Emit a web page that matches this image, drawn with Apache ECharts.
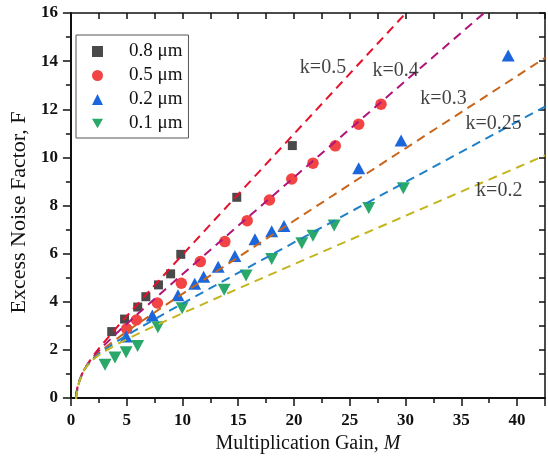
<!DOCTYPE html>
<html>
<head>
<meta charset="utf-8">
<script src="https://cdn.jsdelivr.net/npm/echarts@6/dist/echarts.min.js"></script>
<style>html,body{margin:0;padding:0;background:#fff}#c{width:548px;height:460px}</style>
</head>
<body>
<div id="c"></div>
<script>
// Measured data (multiplication gain M, excess noise factor F)
const sq08 = [[3.66,2.76],[4.81,3.28],[5.99,3.78],[6.72,4.21],[7.85,4.70],[8.94,5.16],[9.85,5.97],[14.87,8.34],[19.85,10.49]];
const ci05 = [[5.0,2.88],[5.87,3.24],[7.75,3.95],[9.9,4.77],[11.6,5.67],[13.8,6.5],[15.8,7.37],[17.8,8.23],[19.8,9.1],[21.7,9.76],[23.7,10.48],[25.8,11.38],[27.8,12.21]];
const tr02 = [[4.95,2.56],[7.3,3.43],[9.6,4.27],[11.1,4.75],[11.9,5.04],[13.2,5.45],[14.7,5.9],[16.5,6.6],[18.0,6.93],[19.1,7.15],[25.8,9.55],[29.6,10.7],[39.2,14.23]];
const dt01 = [[3.06,1.38],[3.95,1.68],[4.95,1.9],[5.98,2.16],[7.8,2.94],[9.97,3.73],[13.74,4.5],[15.7,5.09],[18.0,5.78],[20.7,6.43],[21.7,6.74],[23.6,7.17],[26.7,7.9],[29.8,8.72]];

// Theory curves
const gainGrid = [0.45,0.5,0.6,0.75,1,1.25,1.5,2,2.5,3,4,5,6,8,10,12,15,20,25,30,35,40,42.5];
const F_k050 = [0.114,0.25,0.467,0.708,1.0,1.225,1.417,1.75,2.05,2.333,2.875,3.4,3.917,4.938,5.95,6.958,8.467,10.975,13.48,15.983,18.486,20.988,22.238];
const F_k040 = [0.047,0.2,0.44,0.7,1.0,1.22,1.4,1.7,1.96,2.2,2.65,3.08,3.5,4.325,5.14,5.95,7.16,9.17,11.176,13.18,15.183,17.185,18.186];
const F_k030 = [-0.02,0.15,0.413,0.692,1.0,1.215,1.383,1.65,1.87,2.067,2.425,2.76,3.083,3.713,4.33,4.942,5.853,7.365,8.872,10.377,11.88,13.383,14.134];
const F_k025 = [-0.054,0.125,0.4,0.688,1.0,1.213,1.375,1.625,1.825,2.0,2.313,2.6,2.875,3.406,3.925,4.438,5.2,6.463,7.72,8.975,10.229,11.481,12.107];
const F_k020 = [-0.088,0.1,0.387,0.683,1.0,1.21,1.367,1.6,1.78,1.933,2.2,2.44,2.667,3.1,3.52,3.933,4.547,5.56,6.568,7.573,8.577,9.58,10.081];

const seriesNames = ['0.8 \u03bcm','0.5 \u03bcm','0.2 \u03bcm','0.1 \u03bcm'];
const curveNames = ['k=0.5','k=0.4','k=0.3','k=0.25','k=0.2'];
const curveLabelAt = [[22.6,13.72],[29.1,13.62],[33.4,12.43],[37.9,11.39],[38.4,8.61]];

const FONT = 'Liberation Serif, Times New Roman, serif';
const pair = (xs, ys) => xs.map((x, i) => [x, ys[i]]);

const curveColors = ['#e5112b','#b0147a','#c8661c','#1f80c8','#c4b41e'];
const curveData = [F_k050, F_k040, F_k030, F_k025, F_k020];

const chart = echarts.init(document.getElementById('c'), null, {renderer: 'canvas'});

const lineSeries = curveData.map((ys, i) => ({
  name: curveNames[i], type: 'line', data: pair(gainGrid, ys), showSymbol: false, symbol: 'none',
  clip: true, z: 3, silent: true,
  lineStyle: {color: curveColors[i], width: 2, type: [9, 6]}
}));

const option = {
  animation: false,
  backgroundColor: '#fff',
  grid: {left: 65, right: 3, top: 13, bottom: 62, containLabel: false},
  legend: {
    data: seriesNames, orient: 'vertical', left: 76, top: 35,
    itemWidth: 11, itemHeight: 11, itemGap: 5,
    padding: [7, 6, 5, 16],
    borderColor: '#555', borderWidth: 1,
    textStyle: {fontFamily: FONT, fontSize: 19, color: '#111', padding: [0, 0, 0, 21]}
  },
  xAxis: [{
    type: 'value', min: 0, max: 42.5, interval: 5, position: 'bottom',
    name: 'Multiplication Gain, {i|M}', nameLocation: 'middle', nameGap: 36,
    nameTextStyle: {fontFamily: FONT, fontSize: 20, color: '#111',
      rich: {i: {fontFamily: FONT, fontSize: 20, fontStyle: 'italic', color: '#111'}}},
    axisLine: {show: true, onZero: false, lineStyle: {color: '#111', width: 2}},
    axisTick: {show: true, inside: false, length: 8, lineStyle: {color: '#111', width: 1.5}},
    minorTick: {show: true, splitNumber: 2, length: 5, lineStyle: {color: '#111', width: 1.5}},
    axisLabel: {fontFamily: FONT, fontSize: 17, fontWeight: 'bold', color: '#111', margin: 14, showMaxLabel: false},
    splitLine: {show: false}
  }, {
    type: 'value', min: 0, max: 42.5, interval: 2.5, position: 'top',
    axisLine: {show: true, onZero: false, lineStyle: {color: '#111', width: 1.5}},
    axisTick: {show: true, inside: true, length: 6, lineStyle: {color: '#111', width: 1.5}},
    axisLabel: {show: false}, splitLine: {show: false}
  }],
  yAxis: [{
    type: 'value', min: 0, max: 16, interval: 2, position: 'left',
    name: 'Excess Noise Factor, F', nameLocation: 'middle', nameGap: 37,
    nameTextStyle: {fontFamily: FONT, fontSize: 22, color: '#111', padding: [0, 14, 0, 0]},
    axisLine: {show: true, onZero: false, lineStyle: {color: '#111', width: 2}},
    axisTick: {show: true, inside: false, length: 8, lineStyle: {color: '#111', width: 1.5}},
    minorTick: {show: true, splitNumber: 2, length: 5, lineStyle: {color: '#111', width: 1.5}},
    axisLabel: {fontFamily: FONT, fontSize: 17, fontWeight: 'bold', color: '#111', margin: 13},
    splitLine: {show: false}
  }, {
    type: 'value', min: 0, max: 16, interval: 1, position: 'right',
    axisLine: {show: true, onZero: false, lineStyle: {color: '#111', width: 1.5}},
    axisTick: {show: true, inside: true, length: 6, lineStyle: {color: '#111', width: 1.5}},
    axisLabel: {show: false}, splitLine: {show: false}
  }],
  series: [
    {name: seriesNames[0], type: 'scatter', data: sq08, symbol: 'rect', symbolSize: 9, z: 2,
     itemStyle: {color: '#4a4a4a', opacity: 1}},
    {name: seriesNames[1], type: 'scatter', data: ci05, symbol: 'circle', symbolSize: 11.5, z: 2,
     itemStyle: {color: '#f24444', opacity: 1}},
    {name: seriesNames[2], type: 'scatter', data: tr02, symbol: 'triangle', symbolSize: [13, 12], z: 2,
     itemStyle: {color: '#1c66dc', opacity: 1}},
    {name: seriesNames[3], type: 'scatter', data: dt01, symbol: 'path://M0,0 L10,0 L5,8.66 Z', symbolSize: [13, 12], z: 2,
     itemStyle: {color: '#2aa86a', opacity: 1}},
    ...lineSeries,
    {name: 'curveLabels', type: 'scatter', data: curveLabelAt.map((p, i) => ({value: p, name: curveNames[i]})),
     symbolSize: 1, itemStyle: {color: 'rgba(0,0,0,0)'}, z: 4, silent: true,
     label: {show: true, position: 'inside', formatter: p => p.name, fontFamily: FONT, fontSize: 20, color: '#111'}}
  ]
};
chart.setOption(option);
</script>
</body>
</html>
